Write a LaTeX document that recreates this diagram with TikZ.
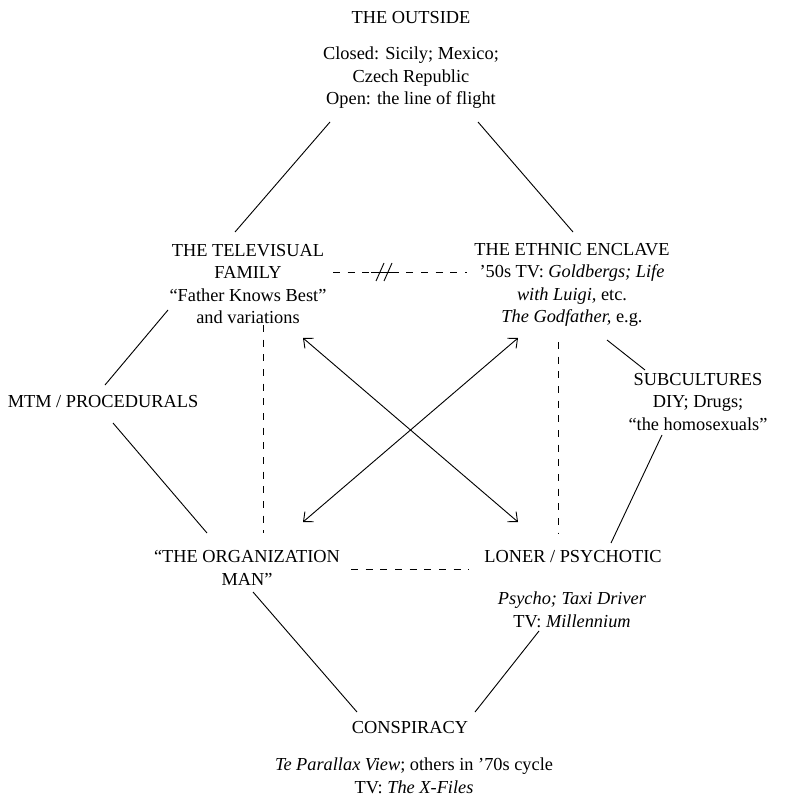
\documentclass[tikz,border=0pt]{standalone}
\usepackage{fontspec}
\setmainfont{Liberation Serif}
\usetikzlibrary{arrows.meta}

\begin{document}
\begin{tikzpicture}[x=0.6pt, y=-0.6pt,
	lbl/.style={align=center, inner sep=0pt, font=\fontsize{11}{13.5}\selectfont},
	link/.style={line width=0.55pt},
	dline/.style={line width=0.55pt, dash pattern=on 4.2pt off 4.6pt},
	cross/.style={line width=0.55pt, {Straight Barb[length=4.5pt,width=8pt]}-{Straight Barb[length=4.5pt,width=8pt]}}]
	\useasboundingbox (0,0) rectangle (788,795);

	\node[lbl] (outside) at (411,18) {THE OUTSIDE};
	\node[lbl] (closed) at (411,78) {Closed: Sicily; Mexico;\\Czech Republic\\Open: the line of flight};
	\node[lbl] (family) at (248,284) {THE TELEVISUAL\\FAMILY\\“Father Knows Best”\\and variations};
	\node[lbl] (ethnic) at (572,285) {THE ETHNIC ENCLAVE\\’50s TV: \textit{Goldbergs; Life}\\\textit{with Luigi,} etc.\\\textit{The Godfather,} e.g.};
	\node[lbl] (mtm) at (103,402) {MTM / PROCEDURALS};
	\node[lbl] (subcult) at (698,402) {SUBCULTURES\\DIY; Drugs;\\“the homosexuals”};
	\node[lbl] (orgman) at (247,568) {“THE ORGANIZATION\\MAN”};
	\node[lbl] (loner) at (573,557) {LONER / PSYCHOTIC};
	\node[lbl] (psycho) at (572,610) {\textit{Psycho; Taxi Driver}\\TV: \textit{Millennium}};
	\node[lbl] (consp) at (410,728) {CONSPIRACY};
	\node[lbl] (films) at (414,776) {\textit{Te Parallax View}; others in ’70s cycle\\TV: \textit{The X-Files}};

	% outer ring
	\draw[link] ([shift={(-81,44)}]closed.center) -- ([shift={(-13,-52)}]family.center);
	\draw[link] ([shift={(67,44)}]closed.center) -- ([shift={(1,-53)}]ethnic.center);
	\draw[link] ([shift={(-80,26)}]family.center) -- ([shift={(2,-17)}]mtm.center);
	\draw[link] ([shift={(10,21)}]mtm.center) -- ([shift={(-40,-35)}]orgman.center);
	\draw[link] ([shift={(35,55)}]ethnic.center) -- ([shift={(-53,-32)}]subcult.center);
	\draw[link] ([shift={(-36,33)}]subcult.center) -- ([shift={(38,-14)}]loner.center);
	\draw[link] ([shift={(6,24)}]orgman.center) -- ([shift={(-53,-16)}]consp.center);
	\draw[link] ([shift={(-33,21)}]psycho.center) -- ([shift={(65,-16)}]consp.center);

	% inner square
	\draw[dline] ([shift={(85,-12)}]family.center) -- ([shift={(-105,-13)}]ethnic.center);
	\draw[dline] ([shift={(15,41)}]family.center) -- ([shift={(16,-35)}]orgman.center);
	\draw[dline] ([shift={(-14,57)}]ethnic.center) -- ([shift={(-15,-24)}]loner.center);
	\draw[dline] ([shift={(104,1)}]orgman.center) -- ([shift={(-104,12)}]loner.center);

	% break on the top side
	\draw[link] (371,272) -- (392,272);
	\foreach \sx in {380,388}
		\draw[link] (\sx+4,263) -- (\sx-4,281);

	% diagonals
	\draw[cross] ([shift={(55,54)}]family.center) -- ([shift={(-55,-35)}]loner.center);
	\draw[cross] ([shift={(-54,53)}]ethnic.center) -- ([shift={(56,-46)}]orgman.center);
\end{tikzpicture}
\end{document}
